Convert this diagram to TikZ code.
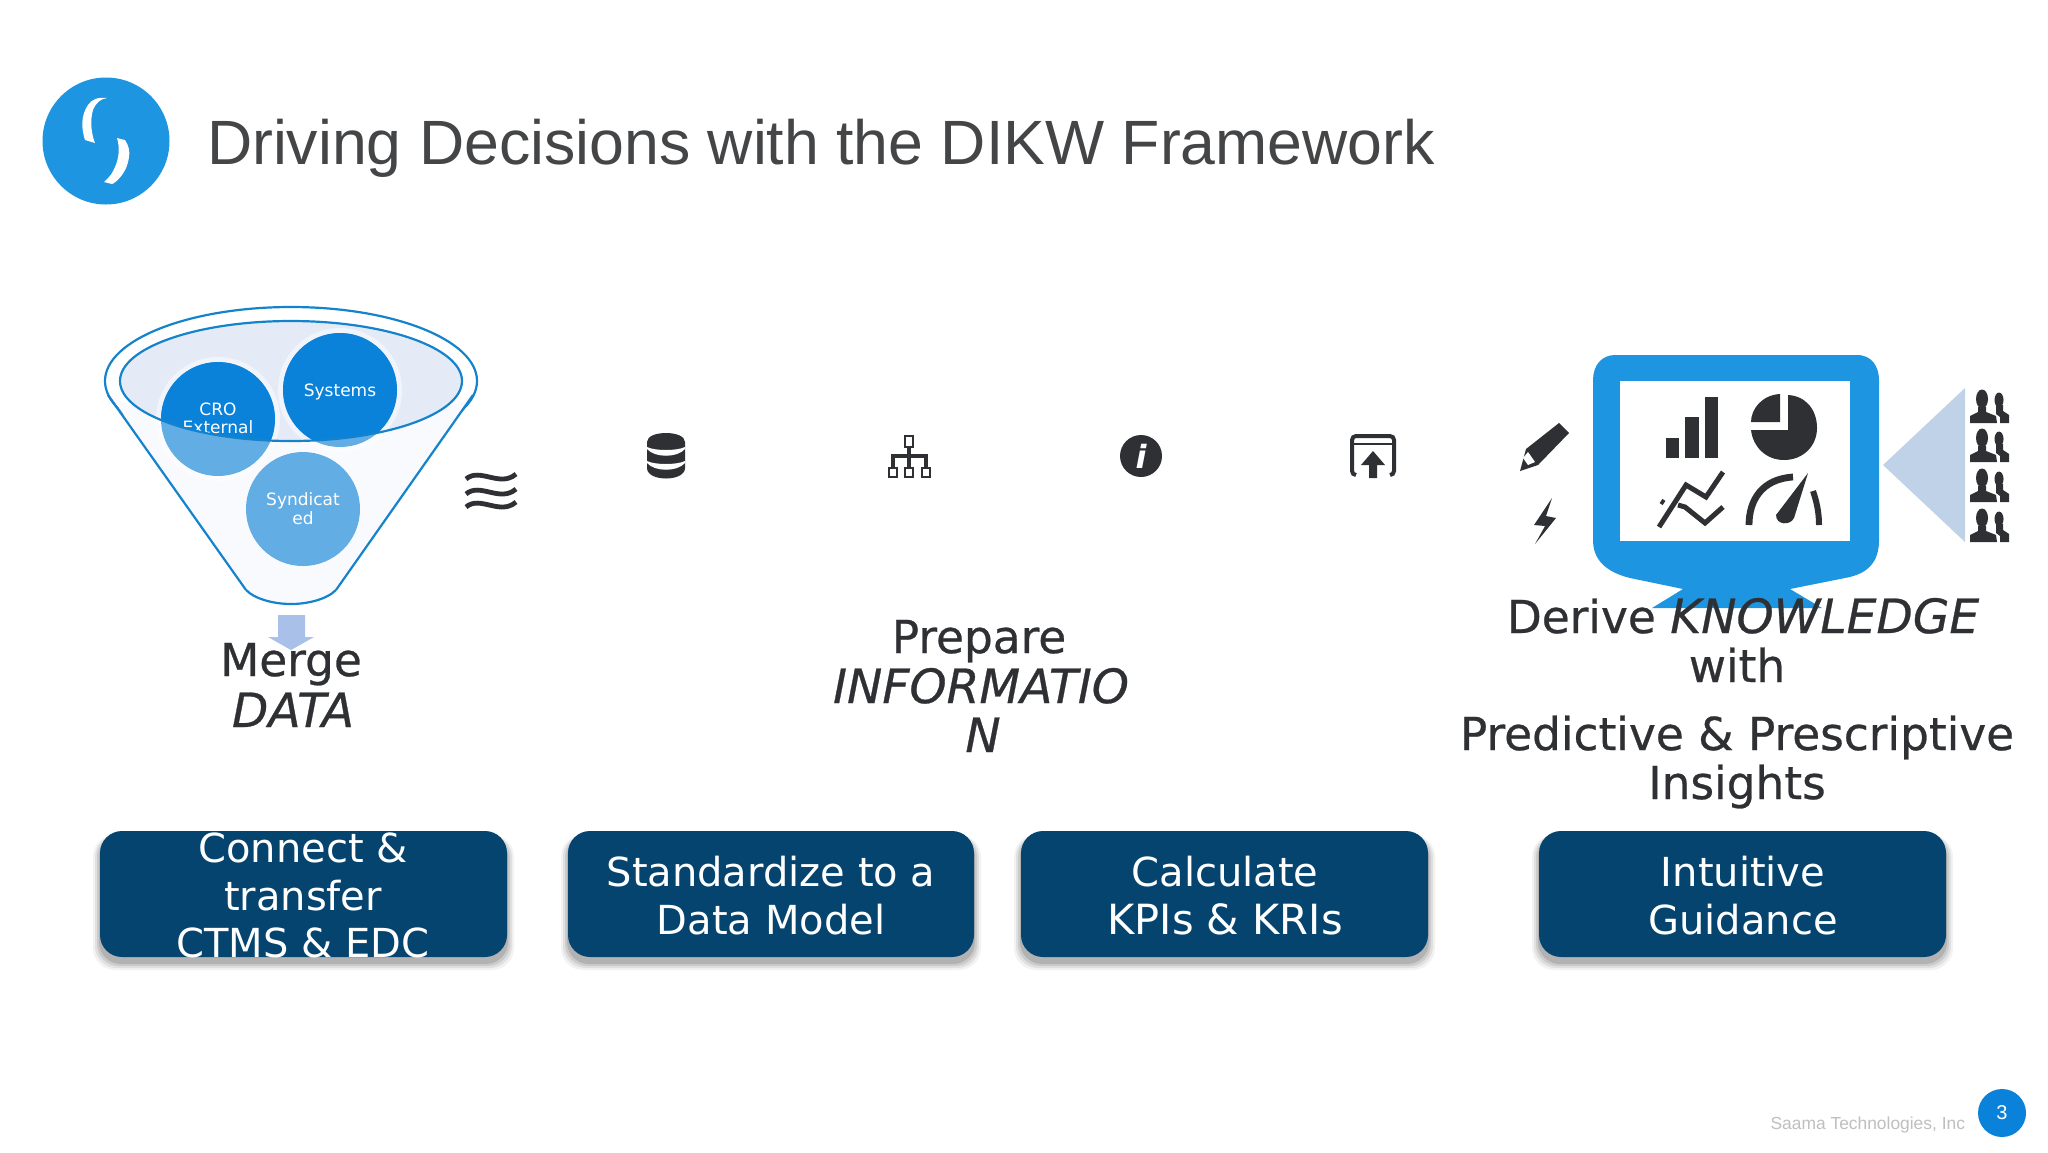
\documentclass[tikz,border=0pt]{standalone}
\usepackage{fontspec}
\setmainfont{DejaVu Sans}
\newfontfamily\arialfont{Liberation Sans}
\newfontfamily\headfont[FakeBold=0.6]{DejaVu Sans}
\usetikzlibrary{calc}
\definecolor{ink}{HTML}{2F3033}
\definecolor{navy}{HTML}{04446F}
\definecolor{bluemid}{HTML}{1E95E0}
\definecolor{bluedark}{HTML}{0A82DA}
\definecolor{bluelight}{HTML}{62ADE4}
\definecolor{funnelline}{HTML}{1583CC}
\definecolor{funnelfill}{HTML}{F9FAFE}
\definecolor{innerfill}{HTML}{E4EBF7}
\definecolor{arrowblue}{HTML}{A9C1E9}
\definecolor{triblue}{HTML}{C0D2E8}
\tikzset{
  every node/.style={inner sep=0pt,outer sep=0pt},
  headtext/.style={anchor=base,text=ink,font=\headfont\fontsize{22.7}{27}\selectfont},
  headit/.style={anchor=base,text=ink,font=\headfont\fontsize{23.6}{27}\selectfont\itshape},
  boxtext/.style={anchor=base,text=white,font=\fontsize{20}{24}\selectfont},
  circtext/.style={anchor=base,text=white,font=\fontsize{8.5}{10}\selectfont},
  iconline/.style={draw=ink,line width=2pt},
}
\newcommand{\peopleicon}[2]{%
  \begin{scope}[shift={(#1,#2)}]
    \fill[ink] (12,9) ellipse [x radius=6,y radius=9.5];
    \fill[ink] (0,33) -- (0,26) -- (8,22) -- (8,17) -- (16,17) -- (16,22) -- (26,26) -- (27,33) -- cycle;
    \fill[ink] (29,10) ellipse [x radius=4.5,y radius=7.5];
    \fill[ink] (30,33) -- (30,27) -- (26,24) -- (26,15) -- (33,15) -- (33,21) -- (39,25) -- (39,33) -- cycle;
  \end{scope}}
\newcommand{\softbox}[5]{% name, x1,y1,x2,y2
  \foreach \k/\o in {7/.05,5/.07,3/.09,1/.12}{
    \fill[black,opacity=\o,rounded corners=11pt] (#2-\k,#3+4) rectangle (#4+\k,#5+6+\k);
  }
  \path[fill=navy,rounded corners=11pt] (#2,#3) rectangle (#4,#5);
  \coordinate (#1) at ({(#2+#4)/2},{(#3+#5)/2});}
\begin{document}
\begin{tikzpicture}[x=0.5pt,y=-0.5pt]
\useasboundingbox (0,0) rectangle (2048,1152);
\fill[white] (0,0) rectangle (2048,1152);
% logo
\fill[bluemid] (106,141) circle [radius=63.5];
\fill[white] (107,98) .. controls (100,99) and (96,103) .. (93,110) .. controls (90,120) and (91,133) .. (95,143) -- (85,140) .. controls (81,128) and (81,115) .. (88,105) .. controls (92,99) and (98,97) .. (107,98) -- cycle;
\fill[white] (117,138) -- (125,140) .. controls (129,146) and (130,152) .. (129,157) .. controls (128,165) and (125,171) .. (122,175) .. controls (118,180) and (115,183) .. (112,184) -- (104,182) .. controls (110,177) and (113,172) .. (115,167) .. controls (119,158) and (120,148) .. (117,138) -- cycle;
\node[anchor=base west,text=ink!90,font=\arialfont\fontsize{31.3}{38}\selectfont] (title) at (207,164) {Driving Decisions with the DIKW Framework};
% funnel
\draw[funnelline,line width=1.1pt,fill=white] (291,381) ellipse [x radius=186,y radius=74];
\fill[funnelfill] (110,395) -- (246,590) -- (336,590) -- (472,395) .. controls (440,430) and (150,430) .. (110,395) -- cycle;
\fill[funnelfill] (246,590) .. controls (256,600) and (276,604) .. (291,604) .. controls (306,604) and (326,600) .. (336,590) -- cycle;
\draw[funnelline,line width=1.1pt] (246,590) .. controls (256,600) and (276,604) .. (291,604) .. controls (306,604) and (326,600) .. (336,590);
\draw[funnelline,line width=1.1pt] (108,395) -- (246,590);
\draw[funnelline,line width=1.1pt] (473,395) -- (336,590);
\fill[innerfill] (291,381) ellipse [x radius=171,y radius=60];
\fill[white,opacity=.5] (218,419) circle [radius=62];
\fill[white,opacity=.5] (340,390) circle [radius=62];
\fill[bluelight] (218,419) circle [radius=57];
\fill[bluelight] (340,390) circle [radius=57];
\fill[bluelight] (303,509) circle [radius=57];
\begin{scope}
  \clip (291,381) ellipse [x radius=171,y radius=60];
  \fill[bluedark] (218,419) circle [radius=57];
  \fill[bluedark] (340,390) circle [radius=57];
  \node[circtext] (cro) at (218,415) {CRO};
  \node[circtext] (ext) at (218,433) {External};
\end{scope}
\draw[funnelline,line width=1.1pt] (291,381) ellipse [x radius=171,y radius=60];
\node[circtext] (sys) at (340,396) {Systems};
\node[circtext] (syn1) at (303,505) {Syndicat};
\node[circtext] (syn2) at (303,524) {ed};
% funnel arrow
\fill[arrowblue] (278,615) -- (305,615) -- (305,637) -- (314,637) -- (291,650) -- (268,637) -- (278,637) -- cycle;
% waves
\foreach \wy in {477,492,505}{
  \draw[ink,line width=2.4pt] (466,\wy+2) .. controls (480,\wy-10) and (500,\wy+11) .. (516,\wy-3);
}
% database icon
\fill[ink] (647,442) .. controls (647,430) and (685,430) .. (685,442) -- (685,468) .. controls (685,482) and (647,482) .. (647,468) -- cycle;
\foreach \dy in {447,461}{
  \fill[white] (647,\dy) .. controls (655,\dy+4) and (677,\dy+4) .. (685,\dy) -- (685,\dy+2) .. controls (677,\dy+11) and (655,\dy+11) .. (647,\dy+2) -- cycle;
}
% tree icon
\draw[iconline] (909,443) -- (909,470);
\draw[iconline] (893,468) -- (893,456) -- (926,456) -- (926,468);
\draw[ink,line width=1.4pt,fill=white] (905,436) rectangle (913,447);
\draw[ink,line width=1.4pt,fill=white] (889,468) rectangle (897,477);
\draw[ink,line width=1.4pt,fill=white] (905,468) rectangle (913,477);
\draw[ink,line width=1.4pt,fill=white] (922,468) rectangle (930,477);
% info icon
\fill[ink] (1141,456) ellipse [x radius=21,y radius=21];
\node[text=white,font=\fontsize{16}{16}\selectfont\bfseries\itshape] (infoi) at (1141,456) {i};
% upload icon
\draw[iconline,rounded corners=2pt] (1356,475) -- (1352,475) -- (1352,436) -- (1394,436) -- (1394,475) -- (1390,475);
\draw[ink,line width=1.2pt] (1354,444) -- (1392,444);
\fill[ink] (1369,478) -- (1369,465) -- (1361,465) -- (1373,451) -- (1385,465) -- (1377,465) -- (1377,478) -- cycle;
% pencil
\fill[ink] (1520,471) -- (1526,449) -- (1559,423) -- (1569,433) -- (1538,465) -- cycle;
\fill[white] (1523,458) -- (1528,452) -- (1535,462) -- (1528,465) -- cycle;
% lightning
\fill[ink] (1552,498) -- (1534,525) -- (1545,526) -- (1535,544) -- (1556,518) -- (1546,516) -- cycle;
% monitor
\path[fill=bluemid] (1615,355) -- (1857,355) .. controls (1872,355) and (1879,367) .. (1879,380) -- (1879,540) .. controls (1879,562) and (1868,574) .. (1845,578) -- (1790,589) -- (1822,608) -- (1652,608) -- (1683,589) -- (1630,578) .. controls (1606,572) and (1593,560) .. (1593,540) -- (1593,380) .. controls (1593,365) and (1602,355) .. (1615,355) -- cycle;
\fill[white] (1620,381) rectangle (1850,541);
\fill[ink] (1665.5,438) rectangle (1678.5,458);
\fill[ink] (1685,417) rectangle (1698.5,458);
\fill[ink] (1704.5,397) rectangle (1718,458);
% pie
\fill[ink] (1780,394) .. controls (1762,395) and (1751,409) .. (1751,422) -- (1780,422) -- cycle;
\fill[ink] (1788,395) .. controls (1806,396) and (1817,410) .. (1817,428) .. controls (1817,446) and (1803,460) .. (1784,460) .. controls (1766,460) and (1753,447) .. (1751,430) -- (1788,430) -- cycle;
% line charts
\draw[ink,line width=2.5pt] (1659,527) -- (1686,485) -- (1706,497) -- (1723,472);
\draw[ink,line width=2.5pt] (1661,501) -- (1664,503) (1678,505) -- (1685,507) -- (1705,523) -- (1723,507);
% gauge
\draw[ink,line width=3.4pt] (1749,525) .. controls (1749,500) and (1762,479) .. (1793,477);
\fill[ink] (1808,473) -- (1794,518) .. controls (1790,526) and (1776,525) .. (1776,515) -- cycle;
\draw[ink,line width=3pt] (1813,491) .. controls (1817,503) and (1819,513) .. (1819,525);
% triangle and people
\fill[triblue] (1883,465) -- (1965,388) -- (1965,542) -- cycle;
\peopleicon{1970}{390}
\peopleicon{1970}{429}
\peopleicon{1970}{469}
\peopleicon{1970}{509}
% headings
\node[headtext] (merge) at (291,676) {Merge};
\node[headit] (data) at (293,727) {DATA};
\node[headtext] (prepare) at (979,653) {Prepare};
\node[headit] (info1) at (981,703) {INFORMATIO};
\node[headit] (info2) at (983,752) {N};
\node[anchor=base,text=ink,font=\headfont\fontsize{22.7}{27}\selectfont] (derive) at (1743,633) {Derive {\fontsize{23.6}{27}\selectfont\itshape KNOWLEDGE}};
\node[headtext] (with) at (1737,682) {with};
\node[headtext] (pred) at (1737,750) {Predictive \& Prescriptive};
\node[headtext] (ins) at (1737,799) {Insights};
% boxes
\softbox{b1}{100}{831}{507}{957}
\softbox{b2}{568}{831}{974}{957}
\softbox{b3}{1021}{831}{1428}{957}
\softbox{b4}{1539}{831}{1946}{957}
\node[boxtext] (t1a) at (303,862) {Connect \&};
\node[boxtext] (t1b) at (303,910) {transfer};
\node[boxtext] (t1c) at (303,957) {CTMS \& EDC};
\node[boxtext] (t2a) at (771,886) {Standardize to a};
\node[boxtext] (t2b) at (771,934) {Data Model};
\node[boxtext] (t3a) at (1225,886) {Calculate};
\node[boxtext,font=\fontsize{20.8}{24}\selectfont] (t3b) at (1225,934) {KPIs \& KRIs};
\node[boxtext] (t4a) at (1743,886) {Intuitive};
\node[boxtext] (t4b) at (1743,934) {Guidance};
% footer
\node[anchor=base east,text=black!25,font=\arialfont\fontsize{8.7}{11}\selectfont] (foot) at (1965,1129) {Saama Technologies, Inc};
\fill[bluedark] (2002,1113) circle [radius=24];
\node[text=white,font=\arialfont\fontsize{10}{12}\selectfont] (pg) at (2002,1113) {3};
\end{tikzpicture}
\end{document}
